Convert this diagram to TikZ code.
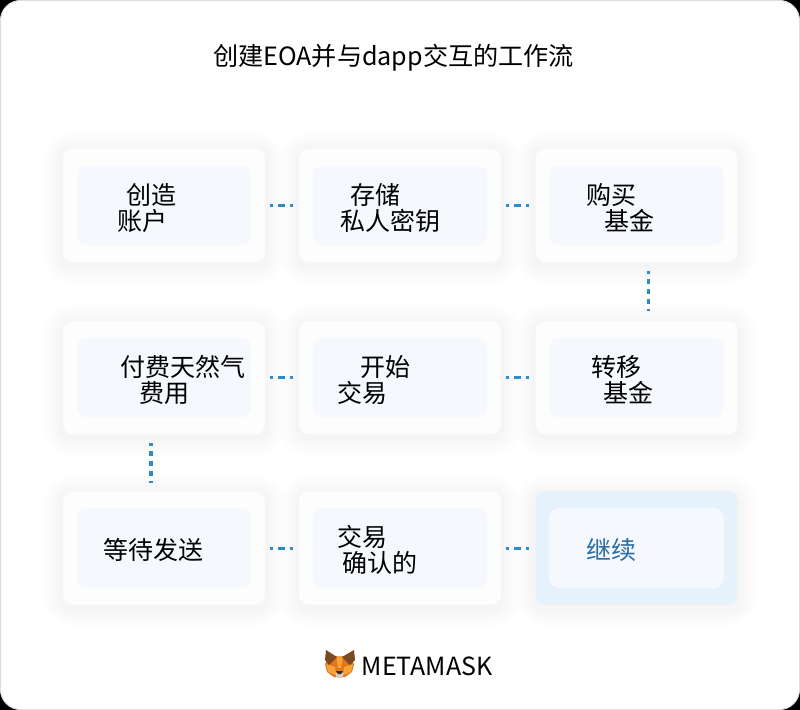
\documentclass[tikz,border=0pt]{standalone}
\usepackage{fontspec}
\setmainfont{Noto Sans CJK SC}
\usepackage{tikz}
\usetikzlibrary{calc,backgrounds}
\definecolor{cardbg}{HTML}{FDFDFE}
\definecolor{innerbg}{HTML}{F5F9FD}
\definecolor{activebg}{HTML}{E5F1FB}
\definecolor{linkblue}{HTML}{2C8CC8}
\definecolor{activetext}{HTML}{2B6CA3}
\definecolor{frameline}{HTML}{DDDDDD}
\definecolor{foxear}{HTML}{7B4A22}
\definecolor{foxface}{HTML}{E2761B}
\definecolor{foxcheek}{HTML}{F6A339}
\definecolor{foxnose}{HTML}{3A2A20}
\definecolor{foxchin}{HTML}{D9CFC4}
\tikzset{
  card/.style={rectangle,rounded corners=7.5pt,fill=cardbg,minimum width=151.5pt,minimum height=85pt,inner sep=0pt},
  activecard/.style={card,fill=activebg},
  innercard/.style={rectangle,rounded corners=7.5pt,fill=innerbg,minimum width=131pt,minimum height=60pt,inner sep=0pt},
  cardlabel/.style={anchor=west,inner sep=0pt,align=left,font=\fontsize{18.75pt}{19.5pt}\selectfont,text=black},
  hlink/.style={draw=linkblue,line width=1.9pt,shorten >=3.75pt,shorten <=3.75pt,dash pattern=on 2.2pt off 3.6pt on 5.2pt off 3.6pt on 2.2pt off 30pt},
  vlink/.style={draw=linkblue,line width=2.3pt,shorten >=7.5pt,shorten <=6.75pt,dash pattern=on 2.2pt off 3.4pt on 4pt off 3.5pt on 4pt off 3.5pt on 4pt off 3.5pt on 2.2pt off 30pt}
}
\begin{document}
\begin{tikzpicture}[x=0.75pt,y=-0.75pt]
\useasboundingbox (0,0) rectangle (800,710);
% title
\node[font=\fontsize{18.85pt}{22pt}\selectfont] (title) at (393.5,57.5) {创建EOA并与dapp交互的工作流};
% cards
\node[card] (a1) at (164,205.5) {};
\node[card] (a2) at (400,205.5) {};
\node[card] (a3) at (636.5,205.5) {};
\node[card] (b1) at (164,377.5) {};
\node[card] (b2) at (400,377.5) {};
\node[card] (b3) at (636.5,377.5) {};
\node[card] (c1) at (164,548) {};
\node[card] (c2) at (400,548) {};
\node[activecard] (c3) at (636.5,548) {};
\foreach \n in {a1,a2,a3,b1,b2,b3,c1,c2,c3}{\node[innercard] (\n i) at (\n) {};}
% panel and soft shadows
\begin{scope}[on background layer]
\fill[black] (0,0) rectangle (800,710);
\fill[white,draw=frameline,line width=0.75pt,rounded corners=15pt] (0.5,0.5) rectangle (799.5,709.5);
\foreach \n in {a1,a2,a3,b1,b2,b3,c1,c2,c3}{
  \foreach \grow in {1.5,3,...,15}{
    \pgfmathsetmacro{\rad}{7.5+\grow}
    \fill[black,opacity=0.0045,rounded corners=\rad pt]
      ($(\n.south west)+(-\grow pt,-\grow pt-2pt)$) rectangle ($(\n.north east)+(\grow pt,\grow pt-2pt)$);
  }
}
\end{scope}
% labels
\node[cardlabel] (a1t) at (117,208) {\hspace{6.75pt}创造\\账户};
\node[cardlabel] (a2t) at (340,208) {\hspace{7.5pt}存储\\私人密钥};
\node[cardlabel] (a3t) at (586,208) {购买\\\hspace{13.5pt}基金};
\node[cardlabel] (b1t) at (120,380) {付费天然气\\\hspace{14.25pt}费用};
\node[cardlabel] (b2t) at (337,380) {\hspace{17.25pt}开始\\交易};
\node[cardlabel] (b3t) at (591,380) {转移\\\hspace{9pt}基金};
\node[cardlabel] (c1t) at (103,550) {等待发送};
\node[cardlabel] (c2t) at (337,550) {交易\\\hspace{3.75pt}确认的};
\node[cardlabel,text=activetext] (c3t) at (586,550) {继续};
% connectors
\draw[hlink] (a1.east) -- (a2.west);
\draw[hlink] (a2.east) -- (a3.west);
\draw[hlink] (b1.east) -- (b2.west);
\draw[hlink] (b2.east) -- (b3.west);
\draw[hlink] ([yshift=-0.3pt]c1.east) -- ([yshift=-0.3pt]c2.west);
\draw[hlink] ([yshift=-0.3pt]c2.east) -- ([yshift=-0.3pt]c3.west);
\draw[vlink] ([xshift=9pt]a3.south) -- ([xshift=9pt]b3.north);
\draw[vlink,shorten >=6pt] ([xshift=-9.75pt]b1.south) -- ([xshift=-9.75pt]c1.north);
% logo
\node[anchor=west,inner sep=0pt,font=\fontsize{18.75pt}{22pt}\selectfont] (brand) at (361.5,666) {METAMASK};
\fill[foxface] (325,664) -- (331,656) -- (348,656) -- (354,664) -- (352,672) -- (345,677) -- (334,677) -- (327,672) -- cycle;
\fill[foxcheek] (326,664) -- (335,667) -- (336,675) -- (328,672) -- cycle;
\fill[foxcheek] (353,664) -- (344,667) -- (343,675) -- (351,672) -- cycle;
\fill[foxcheek] (336,656) -- (343,656) -- (341,668) -- (338,668) -- cycle;
\fill[foxear] (326,650) -- (337,657) -- (329,665) -- (325,660) -- cycle;
\fill[foxear] (354,650) -- (342,657) -- (350,665) -- (355,660) -- cycle;
\fill[foxchin] (335,673) -- (344,673) -- (342,678) -- (337,678) -- cycle;
\fill[foxnose] (336,671) -- (343,671) -- (341,674) -- (338,674) -- cycle;
\end{tikzpicture}
\end{document}
